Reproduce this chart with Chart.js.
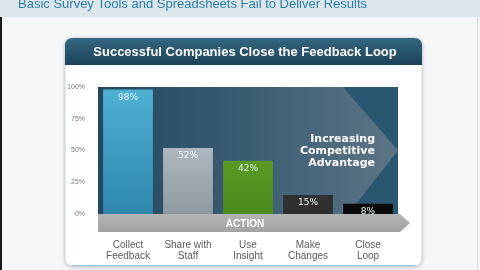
<!DOCTYPE html>
<html>
<head>
<meta charset="utf-8">
<script src="https://cdn.jsdelivr.net/npm/chart.js@4"></script>
<style>
  html, body { margin: 0; padding: 0; background: #f4f6f7; }
  #wrap { width: 480px; height: 270px; }
</style>
</head>
<body>
<div id="wrap"><canvas id="myChart" width="480" height="270"></canvas></div>
<script>
const categories = [["Collect", "Feedback"], ["Share with", "Staff"], ["Use", "Insight"], ["Make", "Changes"], ["Close", "Loop"]];
const values = [98, 52, 42, 15, 8];
const valueLabels = ["98%", "52%", "42%", "15%", "8%"];
const yTicks = [0, 25, 50, 75, 100];
const pageTitle = "Basic Survey Tools and Spreadsheets Fail to Deliver Results";
const panelTitle = "Successful Companies Close the Feedback Loop";
const arrowText = ["Increasing", "Competitive", "Advantage"];

const barStops = [
  ["#4fb2d4", "#2f86ac"],
  ["#ccd4da", "#8e99a2"],
  ["#6aae2e", "#4c8a1c"],
  ["#444444", "#2e2e2e"],
  ["#151515", "#0a0a0a"]
];

function roundRect(ctx, x, y, w, h, r) {
  ctx.beginPath();
  ctx.moveTo(x + r, y);
  ctx.lineTo(x + w - r, y);
  ctx.quadraticCurveTo(x + w, y, x + w, y + r);
  ctx.lineTo(x + w, y + h - r);
  ctx.quadraticCurveTo(x + w, y + h, x + w - r, y + h);
  ctx.lineTo(x + r, y + h);
  ctx.quadraticCurveTo(x, y + h, x, y + h - r);
  ctx.lineTo(x, y + r);
  ctx.quadraticCurveTo(x, y, x + r, y);
  ctx.closePath();
}

// slide, panel and arrows behind the bars
const backdrop = {
  id: "backdrop",
  beforeDraw(chart) {
    const ctx = chart.ctx;
    const a = chart.chartArea;
    ctx.save();
    ctx.fillStyle = "#f4f6f7";
    ctx.fillRect(0, 0, 480, 270);
    ctx.fillStyle = "#dde6ea";
    ctx.fillRect(0, 0, 480, 17);
    ctx.fillStyle = "#1a1a1a";
    ctx.fillRect(0, 17, 2, 253);
    ctx.fillStyle = "#d8dcde";
    ctx.fillRect(477, 17, 1, 253);

    ctx.fillStyle = "#2a7fa8";
    ctx.font = "13px 'Liberation Sans', Arial, sans-serif";
    ctx.textBaseline = "middle";
    ctx.fillText(pageTitle, 18, 4);

    // panel
    ctx.shadowColor = "rgba(0,0,0,0.25)";
    ctx.shadowBlur = 4;
    ctx.shadowOffsetY = 1;
    ctx.fillStyle = "#ffffff";
    roundRect(ctx, 65, 38, 357, 228, 8);
    ctx.fill();
    ctx.shadowColor = "transparent";
    ctx.strokeStyle = "#cfd6da";
    ctx.lineWidth = 1;
    ctx.stroke();
    ctx.fillStyle = "#8cc4dc";
    ctx.fillRect(72, 265, 343, 1);

    // header band
    ctx.save();
    roundRect(ctx, 65, 38, 357, 228, 8);
    ctx.clip();
    const hg = ctx.createLinearGradient(0, 38, 0, 65);
    hg.addColorStop(0, "#336780");
    hg.addColorStop(1, "#1c4259");
    ctx.fillStyle = hg;
    ctx.fillRect(65, 38, 357, 27);
    ctx.restore();
    ctx.fillStyle = "#ffffff";
    ctx.font = "bold 13px 'Liberation Sans', Arial, sans-serif";
    ctx.textAlign = "center";
    ctx.fillText(panelTitle, 245, 52);

    // chart background with big chevron
    ctx.fillStyle = "#2b5670";
    ctx.fillRect(a.left, a.top, a.right - a.left, a.bottom - a.top);
    const mid = (a.top + a.bottom) / 2;
    const ag = ctx.createLinearGradient(a.left, 0, a.right, 0);
    ag.addColorStop(0, "#234860");
    ag.addColorStop(0.5, "#3b5d72");
    ag.addColorStop(1, "#5c7585");
    ctx.fillStyle = ag;
    ctx.beginPath();
    ctx.moveTo(a.left, a.top);
    ctx.lineTo(a.left + 245, a.top);
    ctx.lineTo(a.right, mid);
    ctx.lineTo(a.left + 250, a.bottom);
    ctx.lineTo(a.left, a.bottom);
    ctx.closePath();
    ctx.fill();

    // action arrow
    const gg = ctx.createLinearGradient(0, a.bottom, 0, a.bottom + 18);
    gg.addColorStop(0, "#b4b4b4");
    gg.addColorStop(1, "#a2a2a2");
    ctx.fillStyle = gg;
    ctx.beginPath();
    ctx.moveTo(a.left, a.bottom);
    ctx.lineTo(a.right + 2, a.bottom);
    ctx.lineTo(a.right + 12, a.bottom + 9);
    ctx.lineTo(a.right + 2, a.bottom + 18);
    ctx.lineTo(a.left, a.bottom + 18);
    ctx.closePath();
    ctx.fill();
    ctx.fillStyle = "#ffffff";
    ctx.font = "bold 10px 'Liberation Sans', Arial, sans-serif";
    ctx.fillText("ACTION", 245, a.bottom + 10);

    ctx.font = "bold 11px 'DejaVu Sans', sans-serif";
    ctx.textAlign = "right";
    arrowText.forEach((t, i) => ctx.fillText(t, 375, 139 + i * 12));
    ctx.restore();
  },
  afterDatasetsDraw(chart) {
    const ctx = chart.ctx;
    const meta = chart.getDatasetMeta(0);
    ctx.save();
    ctx.font = "9px 'DejaVu Sans', sans-serif";
    ctx.textAlign = "center";
    ctx.textBaseline = "middle";
    meta.data.forEach((bar, i) => {
      ctx.fillStyle = i === 1 ? "#f4f6f8" : "#e8f2f6";
      ctx.fillText(valueLabels[i], bar.x, bar.y + 8);
    });
    ctx.restore();
  }
};

const ctx = document.getElementById("myChart").getContext("2d");
new Chart(ctx, {
  type: "bar",
  data: {
    labels: categories,
    datasets: [{
      data: values,
      backgroundColor: (c) => {
        const area = c.chart.chartArea;
        if (!area) return barStops[c.dataIndex][0];
        const g = c.chart.ctx.createLinearGradient(0, area.top, 0, area.bottom);
        g.addColorStop(0, barStops[c.dataIndex][0]);
        g.addColorStop(1, barStops[c.dataIndex][1]);
        return g;
      },
      borderWidth: 0,
      barPercentage: 0.83,
      categoryPercentage: 1
    }]
  },
  options: {
    responsive: false,
    animation: false,
    layout: { padding: { left: 68, right: 82, top: 87, bottom: 4 } },
    plugins: { legend: { display: false }, tooltip: { enabled: false } },
    scales: {
      x: {
        grid: { display: false },
        border: { display: false },
        afterFit: (s) => { s.height = 52; },
        ticks: {
          padding: 17,
          color: "#5a5a5a",
          font: { family: "'Liberation Sans', Arial, sans-serif", size: 10, lineHeight: 1.15 }
        }
      },
      y: {
        min: 0,
        max: 100,
        afterFit: (s) => { s.width = 30; },
        afterBuildTicks: (s) => { s.ticks = yTicks.map((v) => ({ value: v })); },
        grid: { display: false },
        border: { display: false },
        ticks: {
          padding: 5,
          color: "#777777",
          font: { family: "'Liberation Sans', Arial, sans-serif", size: 7 },
          callback: (v) => v + "%"
        }
      }
    }
  },
  plugins: [backdrop]
});
</script>
</body>
</html>
